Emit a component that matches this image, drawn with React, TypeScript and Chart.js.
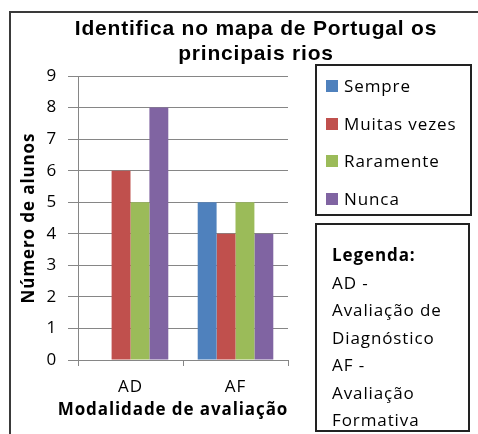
import React, { useEffect, useRef } from "react";
import { Chart, registerables } from "chart.js";

Chart.register(...registerables);

const titleLines = ["Identifica no mapa de Portugal os", "principais rios"];
const categories = ["AD", "AF"];
const seriesNames = ["Sempre", "Muitas vezes", "Raramente", "Nunca"];
const sempre = [0, 5];
const muitasVezes = [6, 4];
const raramente = [5, 5];
const nunca = [8, 4];
const seriesColors = ["#4F81BD", "#C0504D", "#9BBB59", "#8064A2"];
const yMin = 0;
const yMax = 9;
const yStep = 1;
const yTitle = "Número de alunos";
const xTitle = "Modalidade de avaliação";
const noteTitle = "Legenda:";
const noteLines = ["AD -", "Avaliação de", "Diagnóstico", "AF -", "Avaliação", "Formativa"];

const FONT = "'Open Sans', Lato, sans-serif";
const GRID = "#868686";
const SPACING = "0.9px";

const spacingPlugin = {
  id: "spacingPlugin",
  beforeDraw(chart: any) {
    chart.ctx.letterSpacing = SPACING;
  },
};

const xTitlePlugin = {
  id: "xTitlePlugin",
  afterDraw(chart: any) {
    const s = chart.scales.x;
    const ctx = chart.ctx;
    ctx.save();
    ctx.letterSpacing = SPACING;
    ctx.font = `bold 17px ${FONT}`;
    ctx.fillStyle = "#000";
    ctx.textAlign = "center";
    ctx.textBaseline = "middle";
    ctx.fillText(xTitle, (s.left + s.right) / 2 - 10, 410);
    ctx.restore();
  },
};

export default function App() {
  const ref = useRef<HTMLCanvasElement | null>(null);

  useEffect(() => {
    if (!ref.current) return;
    const values = [sempre, muitasVezes, raramente, nunca];
    const chart = new Chart(ref.current, {
      type: "bar",
      data: {
        labels: categories,
        datasets: seriesNames.map((name, i) => ({
          label: name,
          data: values[i],
          backgroundColor: seriesColors[i],
          borderWidth: 0,
          categoryPercentage: 0.72,
          barPercentage: 1,
        })),
      },
      options: {
        animation: false,
        responsive: false,
        maintainAspectRatio: false,
        layout: { padding: { left: 0, right: 190, top: 76, bottom: 0 } },
        plugins: {
          legend: { display: false },
          title: { display: false },
          tooltip: { enabled: false },
        },
        scales: {
          x: {
            grid: {
              display: true,
              drawOnChartArea: false,
              drawTicks: true,
              tickLength: 6,
              offset: true,
              color: GRID,
            },
            border: { color: GRID },
            ticks: { color: "#000", font: { family: FONT, size: 17 }, padding: 11 },
            afterFit: (s: any) => {
              s.height = 74;
            },
          },
          y: {
            min: yMin,
            max: yMax,
            grid: { color: GRID, tickLength: 10, drawTicks: true },
            border: { color: GRID },
            ticks: {
              stepSize: yStep,
              color: "#000",
              font: { family: FONT, size: 17 },
              padding: 11,
            },
            title: {
              display: true,
              text: yTitle,
              color: "#000",
              font: { family: FONT, size: 17, weight: "bold" },
              padding: { top: 19, bottom: 0 },
            },
            afterFit: (s: any) => {
              s.width = 78;
            },
          },
        },
      },
      plugins: [spacingPlugin, xTitlePlugin],
    });
    return () => chart.destroy();
  }, []);

  return (
    <div
      style={{
        position: "fixed",
        left: 0,
        top: 0,
        width: 478,
        height: 434,
        background: "#fff",
        overflow: "hidden",
      }}
    >
      <div
        style={{
          position: "absolute",
          left: 9,
          top: 11,
          width: 500,
          height: 460,
          border: "2px solid #3a3a3a",
          boxSizing: "border-box",
        }}
      />
      <canvas
        ref={ref}
        width={478}
        height={434}
        style={{ position: "absolute", left: 0, top: 0, width: 478, height: 434 }}
      />
      <div
        style={{
          position: "absolute",
          left: 0,
          top: 15,
          width: 512,
          textAlign: "center",
          fontFamily: "'Liberation Sans', Arial, sans-serif",
          fontWeight: "bold",
          fontSize: 21,
          letterSpacing: "0.8px",
          lineHeight: "25px",
          color: "#000",
        }}
      >
        {titleLines.map((t, i) => (
          <div key={i}>{t}</div>
        ))}
      </div>
      <div
        style={{
          position: "absolute",
          left: 315,
          top: 64,
          width: 157,
          height: 152,
          border: "2px solid #222",
          boxSizing: "border-box",
          background: "#fff",
          fontFamily: FONT,
          fontSize: 17,
          letterSpacing: SPACING,
          color: "#000",
        }}
      >
        {seriesNames.map((name, i) => (
          <div
            key={name}
            style={{
              position: "absolute",
              left: 9,
              top: 9 + i * 37.7,
              height: 22,
              lineHeight: "22px",
              display: "flex",
              alignItems: "center",
              whiteSpace: "nowrap",
            }}
          >
            <span
              style={{
                display: "inline-block",
                width: 12,
                height: 12,
                background: seriesColors[i],
                marginRight: 6,
              }}
            />
            {name}
          </div>
        ))}
      </div>
      <div
        style={{
          position: "absolute",
          left: 315,
          top: 223,
          width: 155,
          height: 209,
          border: "2px solid #222",
          boxSizing: "border-box",
          background: "#fff",
          fontFamily: FONT,
          fontSize: 17,
          letterSpacing: SPACING,
          color: "#000",
          paddingLeft: 15,
          paddingTop: 16,
          lineHeight: "27.5px",
          whiteSpace: "nowrap",
        }}
      >
        <div style={{ fontWeight: "bold" }}>{noteTitle}</div>
        {noteLines.map((t, i) => (
          <div key={i}>{t}</div>
        ))}
      </div>
    </div>
  );
}
